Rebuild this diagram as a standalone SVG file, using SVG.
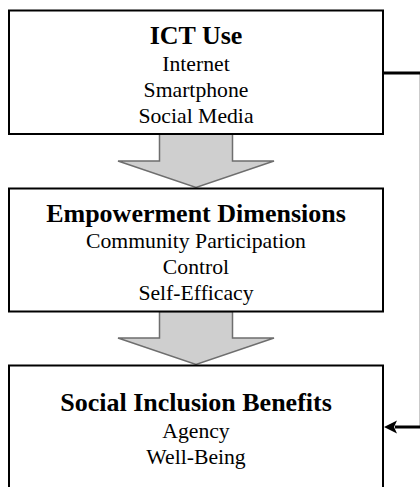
<svg xmlns="http://www.w3.org/2000/svg" width="420" height="487" viewBox="0 0 420 487">
<defs>
<style>
.box{fill:#fff;stroke:#000;stroke-width:2}
.blk{fill:#cfcfcf;stroke:#6e6e6e;stroke-width:1.5;stroke-linejoin:miter}
.t{font-family:"Liberation Serif","Times New Roman",serif;text-anchor:middle;fill:#000}
.h{font-size:26px;font-weight:bold}
.r{font-size:21.7px}
.con{fill:none;stroke:#000;stroke-width:3}
</style>
</defs>
<rect width="420" height="487" fill="#fff"/>
<g id="connectors">
<path class="blk" d="M159.5,134 L232.5,134 L232.5,161 L274,161 L196,187.5 L118,161 L159.5,161 Z"/>
<path class="blk" d="M159.5,311.5 L232.5,311.5 L232.5,338 L274,338 L196,364.5 L118,338 L159.5,338 Z"/>
<path class="con" d="M383,73 L421.3,73 L421.3,427 L395,427"/>
<path d="M384,427 L397,420.5 L394,427 L397,433.5 Z" fill="#000"/>
</g>
<g id="ict">
<rect class="box" x="9" y="10.5" width="374" height="123.5"/>
<text class="t h" x="196" y="44">ICT Use</text>
<text class="t r" x="196" y="71">Internet</text>
<text class="t r" x="196" y="96.7">Smartphone</text>
<text class="t r" x="196" y="122.5">Social Media</text>
</g>
<g id="empowerment">
<rect class="box" x="9" y="188.5" width="374" height="123"/>
<text class="t h" x="196" y="221.7">Empowerment Dimensions</text>
<text class="t r" x="196" y="248.3">Community Participation</text>
<text class="t r" x="196" y="274">Control</text>
<text class="t r" x="196" y="300">Self-Efficacy</text>
</g>
<g id="inclusion">
<rect class="box" x="9" y="365.5" width="374" height="140"/>
<text class="t h" x="196" y="410.7">Social Inclusion Benefits</text>
<text class="t r" x="196" y="437.7">Agency</text>
<text class="t r" x="196" y="464">Well-Being</text>
</g>
</svg>
